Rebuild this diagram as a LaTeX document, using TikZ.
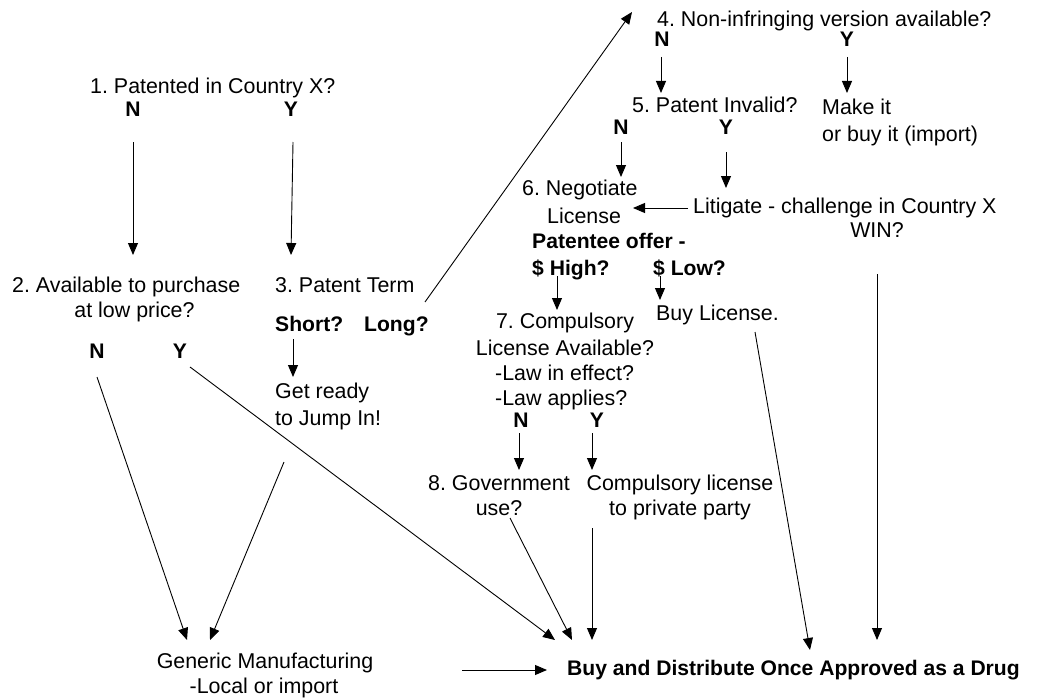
\documentclass[tikz,border=0pt]{standalone}
\usepackage{fontspec}
\setmainfont{Liberation Sans}
\usetikzlibrary{arrows.meta}
\frenchspacing
\begin{document}
\begin{tikzpicture}[x=1pt,y=-1pt,
  txt/.style={inner sep=0pt,font=\fontsize{21.4}{25}\selectfont},
  bld/.style={inner sep=0pt,font=\fontsize{21.1}{25}\selectfont\bfseries},
  arr/.style={line width=0.9pt,-{Triangle[length=12pt,width=10pt]}},
  ln/.style={line width=0.9pt}]
\useasboundingbox (0,0) rectangle (1038,698);
% 1
\node[txt,anchor=base west] (t1) at (90,94) {1. Patented in Country X?};
\node[bld,anchor=base] (n1N) at (133,117) {N};
\node[bld,anchor=base] (n1Y) at (291,117) {Y};
\coordinate (a1s) at (133,142); \coordinate (a1e) at (133,255);
\coordinate (a2s) at (293,142); \coordinate (a2e) at (291,255);
\draw[arr] (a1s) -- (a1e);
\draw[arr] (a2s) -- (a2e);
% 2
\node[txt,anchor=base west] (t2a) at (12,292) {2. Available to purchase};
\node[txt,anchor=base] (t2b) at (134.5,317) {at low price?};
\node[bld,anchor=base] (n2N) at (97,358) {N};
\node[bld,anchor=base] (n2Y) at (180,358) {Y};
% 3
\node[txt,anchor=base west] (t3) at (275,292) {3. Patent Term};
\node[bld,anchor=base west] (short) at (275,331) {Short?};
\node[bld,anchor=base west] (long) at (364,331) {Long?};
\node[txt,anchor=base west] (gr1) at (275,398) {Get ready};
\node[txt,anchor=base west] (gr2) at (275,425) {to Jump In!};
\coordinate (s1) at (293,339); \coordinate (s2) at (293,377);
\draw[arr] (s1) -- (s2);
% 4
\node[txt,anchor=base west] (t4) at (657,27) {4. Non-infringing version available?};
\node[bld,anchor=base] (n4N) at (662,47) {N};
\node[bld,anchor=base] (n4Y) at (847,47) {Y};
\coordinate (l1) at (425,302); \coordinate (l2) at (632,12);
\draw[arr] (l1) -- (l2);
\coordinate (b4Ns) at (661,57); \coordinate (b4Ne) at (661,93);
\coordinate (b4Ys) at (847,57); \coordinate (b4Ye) at (847,93);
\draw[arr] (b4Ns) -- (b4Ne);
\draw[arr] (b4Ys) -- (b4Ye);
\node[txt,anchor=base west] (mk1) at (822,115) {Make it};
\node[txt,anchor=base west] (mk2) at (822,142) {or buy it (import)};
% 5
\node[txt,anchor=base west] (t5) at (632,113) {5. Patent Invalid?};
\node[bld,anchor=base] (n5N) at (621,135) {N};
\node[bld,anchor=base] (n5Y) at (726,135) {Y};
\coordinate (b5Ns) at (621,142); \coordinate (b5Ne) at (621,177);
\coordinate (b5Ys) at (726,152); \coordinate (b5Ye) at (726,188);
\draw[arr] (b5Ns) -- (b5Ne);
\draw[arr] (b5Ys) -- (b5Ye);
% 6
\node[txt,anchor=base west] (t6a) at (522,195) {6. Negotiate};
\node[txt,anchor=base west] (t6b) at (547,223) {License};
\node[txt,anchor=base west] (lit) at (693,213) {Litigate - challenge in Country X};
\node[txt,anchor=base] (win) at (877,237) {WIN?};
\coordinate (lit1) at (688,208); \coordinate (lit2) at (633,208);
\draw[arr] (lit1) -- (lit2);
\node[bld,anchor=base west] (pat) at (532,248) {Patentee offer -};
\node[bld,anchor=base west] (high) at (532,275) {\$ High?};
\node[bld,anchor=base west] (low) at (653,275) {\$ Low?};
\coordinate (h1) at (557,276); \coordinate (h2) at (557,310);
\coordinate (lo1) at (660,276); \coordinate (lo2) at (660,300);
\draw[arr] (h1) -- (h2);
\draw[arr] (lo1) -- (lo2);
\node[txt,anchor=base west] (buyl) at (656,320) {Buy License.};
% 7
\node[txt,anchor=base] (t7a) at (565,328) {7. Compulsory};
\node[txt,anchor=base] (t7b) at (565,355) {License Available?};
\node[txt,anchor=base west] (t7c) at (495,380) {-Law in effect?};
\node[txt,anchor=base west] (t7d) at (495,405) {-Law applies?};
\node[bld,anchor=base] (n7N) at (521,427) {N};
\node[bld,anchor=base] (n7Y) at (597,427) {Y};
\coordinate (b7Ns) at (519,433); \coordinate (b7Ne) at (519,470);
\coordinate (b7Ys) at (592,433); \coordinate (b7Ye) at (592,470);
\draw[arr] (b7Ns) -- (b7Ne);
\draw[arr] (b7Ys) -- (b7Ye);
% 8
\node[txt,anchor=base west] (t8a) at (428,490) {8. Government};
\node[txt,anchor=base] (t8b) at (499,515) {use?};
\node[txt,anchor=base] (cl1) at (680,490) {Compulsory license};
\node[txt,anchor=base] (cl2) at (680,515) {to private party};
% bottom
\node[txt,anchor=base] (gm1) at (265,668) {Generic Manufacturing};
\node[txt,anchor=base] (gm2) at (264,693) {-Local or import};
\node[bld,anchor=base west] (buy) at (567,675) {Buy and Distribute Once Approved as a Drug};
% connectors to bottom
\coordinate (g1s) at (97,377); \coordinate (g1e) at (187,640);
\coordinate (g2s) at (284,462); \coordinate (g2e) at (210,640);
\coordinate (y2s) at (190,367); \coordinate (y2e) at (555,640);
\coordinate (u8s) at (510,518); \coordinate (u8e) at (572,640);
\coordinate (cps) at (592,528); \coordinate (cpe) at (592,640);
\coordinate (bls) at (755,332); \coordinate (ble) at (810,650);
\coordinate (ws) at (877,274); \coordinate (we) at (877,640);
\coordinate (gb1) at (462,670); \coordinate (gb2) at (547,670);
\draw[arr] (g1s) -- (g1e);
\draw[arr] (g2s) -- (g2e);
\draw[arr] (y2s) -- (y2e);
\draw[arr] (u8s) -- (u8e);
\draw[arr] (cps) -- (cpe);
\draw[arr] (bls) -- (ble);
\draw[arr] (ws) -- (we);
\draw[arr] (gb1) -- (gb2);
\end{tikzpicture}
\end{document}
